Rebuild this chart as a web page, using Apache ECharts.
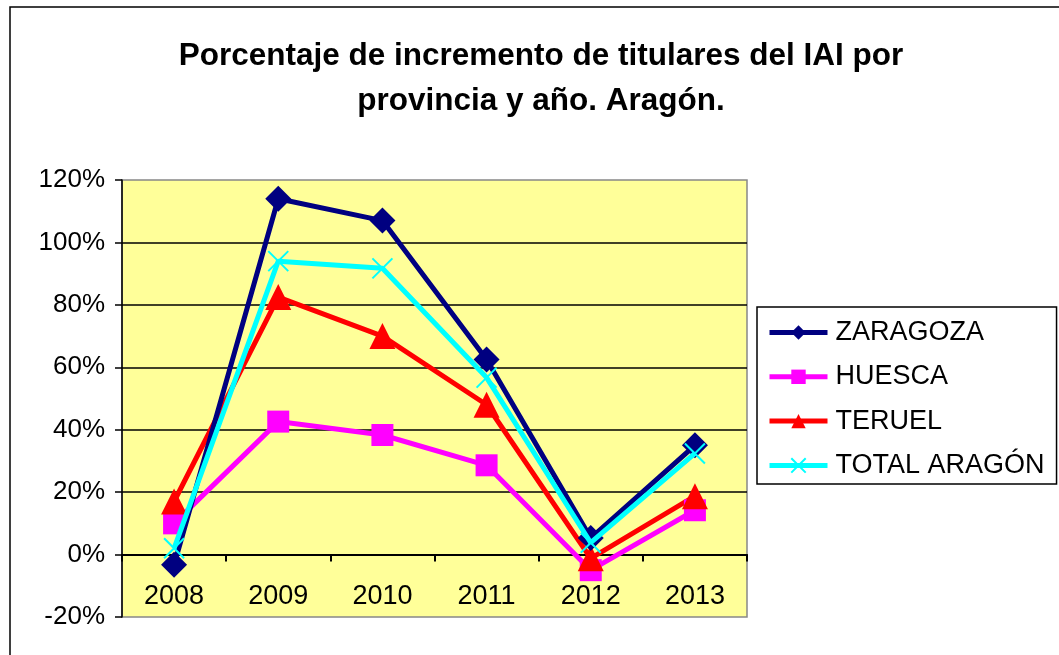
<!DOCTYPE html>
<html>
<head>
<meta charset="utf-8">
<script src="https://cdn.jsdelivr.net/npm/echarts@6/dist/echarts.min.js"></script>
<style>html,body{margin:0;padding:0;background:#fff}#c{width:1059px;height:655px}</style>
</head>
<body>
<div id="c"></div>
<script>
const years = ['2008','2009','2010','2011','2012','2013'];
const zaragoza = [-3.3, 114, 107, 62.5, 5.3, 35];
const huesca = [10, 42.6, 38.3, 28.6, -5, 14.2];
const teruel = [17, 82.5, 70, 48, -1.2, 18.7];
const totalAragon = [2, 94, 91.7, 56.7, 3.8, 32.4];
const yTicks = {min: -20, max: 120, interval: 20};
const titleText = 'Porcentaje de incremento de titulares del IAI por\nprovincia y año. Aragón.';

const FONT = '"Liberation Sans", Arial, sans-serif';
const chart = echarts.init(document.getElementById('c'), null, {renderer: 'canvas'});
const xPath = 'path://M0,0L10,10M10,0L0,10';

function ser(name, data, color, symbol, size, extra) {
  return Object.assign({
    name, type: 'line', data, symbol, symbolSize: size,
    lineStyle: {color, width: 5},
    itemStyle: {color, borderColor: color, borderWidth: 0},
    z: 3
  }, extra || {});
}

chart.setOption({
  animation: false,
  backgroundColor: '#ffffff',
  title: {
    text: titleText,
    left: 536, top: 29, textAlign: 'center',
    textStyle: {fontFamily: FONT, fontWeight: 'bold', fontSize: 31.5, lineHeight: 45, color: '#000'}
  },
  graphic: [{
    type: 'rect', shape: {x: 10, y: 7, width: 1070, height: 680},
    style: {fill: 'none', stroke: '#000', lineWidth: 1.5}, z: 0
  }],
  grid: {left: 122, right: 312, top: 180, bottom: 38, show: true, outerBoundsMode: 'none',
         backgroundColor: '#FFFF99', borderColor: '#888', borderWidth: 1.5},
  legend: {
    orient: 'vertical', left: 757, top: 307,
    padding: [12, 12, 5, 10], itemGap: 17.3,
    backgroundColor: '#fff', borderColor: '#000', borderWidth: 1.5,
    itemWidth: 58, itemHeight: 18,
    lineStyle: {width: 5},
    textStyle: {fontFamily: FONT, fontSize: 27, lineHeight: 27, color: '#000', padding: [0, 0, 0, 3]},
    data: ['ZARAGOZA', 'HUESCA', 'TERUEL', 'TOTAL ARAGÓN']
  },
  xAxis: {
    type: 'category', data: years, boundaryGap: true,
    axisLine: {onZero: true, lineStyle: {color: '#000', width: 2}},
    axisTick: {show: true, inside: false, length: 7, alignWithLabel: false, lineStyle: {color: '#000', width: 2}},
    axisLabel: {fontFamily: FONT, fontSize: 27, color: '#000', margin: -34},
    splitLine: {show: false}
  },
  yAxis: {
    type: 'value', min: yTicks.min, max: yTicks.max, interval: yTicks.interval,
    axisLine: {show: true, lineStyle: {color: '#000', width: 1.5}},
    axisTick: {show: true, length: 7, lineStyle: {color: '#000', width: 1.5}},
    axisLabel: {fontFamily: FONT, fontSize: 26, color: '#000', margin: 17, formatter: '{value}%'},
    splitLine: {show: true, showMinLine: false, showMaxLine: false, lineStyle: {color: '#000', width: 1.5}}
  },
  series: [
    ser('ZARAGOZA', zaragoza, '#000080', 'diamond', 26, {z: 4}),
    ser('HUESCA', huesca, '#FF00FF', 'rect', 22),
    ser('TERUEL', teruel, '#FF0000', 'triangle', 26),
    ser('TOTAL ARAGÓN', totalAragon, '#00FFFF', xPath, 20, {
      itemStyle: {color: 'none', borderColor: '#00FFFF', borderWidth: 2}, z: 5
    })
  ]
});
</script>
</body>
</html>
